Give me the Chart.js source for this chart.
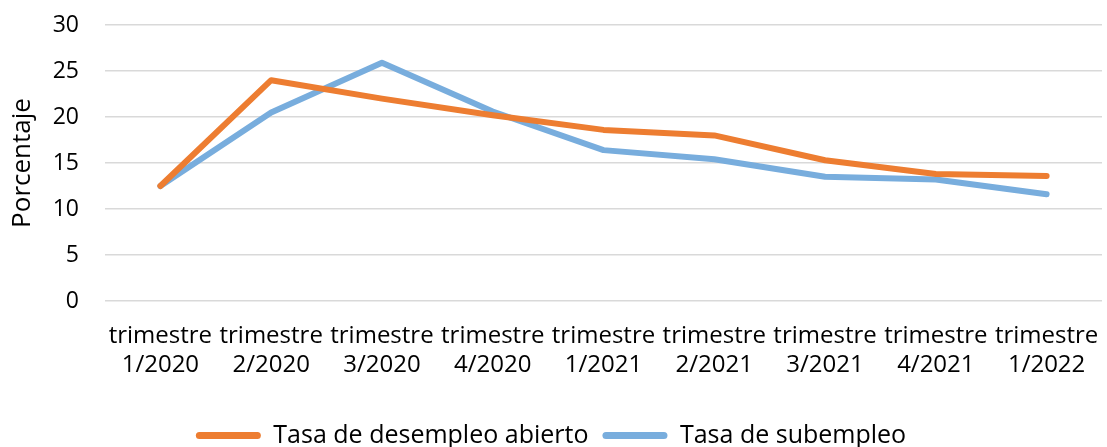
<!DOCTYPE html>
<html>
<head>
<meta charset="utf-8">
<script src="https://cdn.jsdelivr.net/npm/chart.js@4/dist/chart.umd.min.js"></script>
<style>
  html, body { margin: 0; padding: 0; background: #fff; }
  #wrap { width: 1107px; height: 447px; }
</style>
</head>
<body>
<div id="wrap"><canvas id="chart"></canvas></div>
<script>
// Data
const quarters = ['1/2020', '2/2020', '3/2020', '4/2020', '1/2021', '2/2021', '3/2021', '4/2021', '1/2022'];
const desempleoAbierto = [12.5, 24.0, 22.0, 20.2, 18.6, 18.0, 15.3, 13.8, 13.6];
const subempleo = [12.5, 20.5, 25.9, 20.6, 16.4, 15.4, 13.5, 13.2, 11.6];
const yTicks = [0, 5, 10, 15, 20, 25, 30];

const FONT = "'Open Sans', sans-serif";
const TEXT = '#000';

function makeLine(label, data, color) {
    return {
        label: label,
        data: data,
        borderColor: color,
        backgroundColor: color,
        borderWidth: 6,
        borderJoinStyle: 'round',
        borderCapStyle: 'round',
        pointRadius: 0,
        tension: 0,
        fill: false
    };
}

new Chart(document.getElementById('chart'), {
    type: 'line',
    data: {
        labels: quarters.map(q => ['trimestre', q]),
        datasets: [
            makeLine('Tasa de desempleo abierto', desempleoAbierto, '#ED7D31'),
            makeLine('Tasa de subempleo', subempleo, '#78ADDD')
        ]
    },
    options: {
        responsive: true,
        maintainAspectRatio: false,
        animation: false,
        layout: { padding: { top: 25, right: 5, bottom: -11, left: 0 } },
        scales: {
            x: {
                offset: true,
                grid: { display: false, offset: true },
                border: { display: false },
                ticks: {
                    color: TEXT,
                    font: { family: FONT, size: 24 },
                    autoSkip: false,
                    maxRotation: 0,
                    minRotation: 0,
                    padding: 13
                },
                afterFit: scale => {
                    scale.height = 108;
                    scale.paddingLeft = 0;
                    scale.paddingRight = 0;
                }
            },
            y: {
                min: 0,
                max: 30,
                afterBuildTicks: scale => { scale.ticks = yTicks.map(v => ({ value: v })); },
                grid: { color: '#D9D9D9', lineWidth: 1.5, drawTicks: false },
                border: { display: false },
                ticks: {
                    color: TEXT,
                    font: { family: FONT, size: 23 },
                    padding: 26
                },
                title: {
                    display: true,
                    text: 'Porcentaje',
                    color: TEXT,
                    font: { family: FONT, size: 26 },
                    padding: { top: 7, bottom: 0 }
                },
                afterFit: scale => {
                    scale.width = 105;
                    scale.paddingTop = 0;
                    scale.paddingBottom = 0;
                }
            }
        },
        plugins: {
            legend: {
                position: 'bottom',
                labels: {
                    color: TEXT,
                    font: { family: FONT, size: 25 },
                    boxWidth: 65,
                    boxHeight: 7,
                    useBorderRadius: true,
                    borderRadius: 3.5,
                    padding: 14,
                    generateLabels: chart => Chart.defaults.plugins.legend.labels.generateLabels(chart)
                        .map(item => Object.assign(item, { lineWidth: 0 }))
                }
            },
            tooltip: { enabled: false }
        }
    }
});
</script>
</body>
</html>
